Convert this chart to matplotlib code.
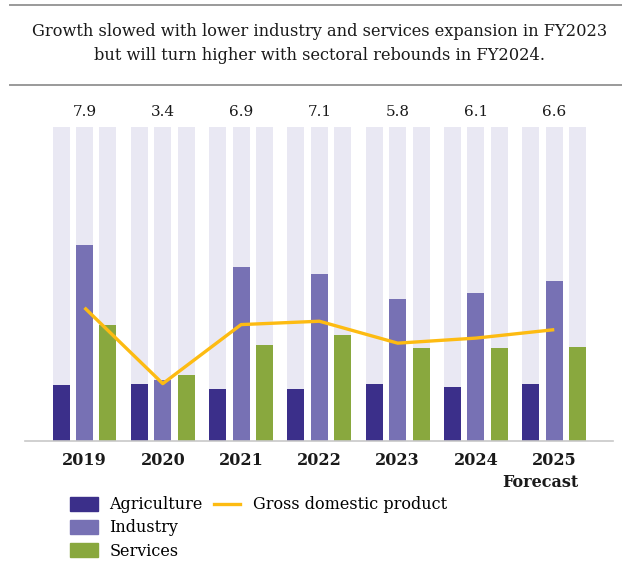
import numpy as np
import matplotlib
matplotlib.use("Agg")
import matplotlib.pyplot as plt
from matplotlib.patches import Patch
from matplotlib.lines import Line2D

# Sector contributions and GDP growth (%), FY2019-FY2025
years = ["2019", "2020", "2021", "2022", "2023", "2024", "2025"]
agriculture = [3.3, 3.4, 3.1, 3.1, 3.4, 3.2, 3.4]
industry = [11.6, 3.6, 10.3, 9.9, 8.4, 8.8, 9.5]
services = [6.9, 3.9, 5.7, 6.3, 5.5, 5.5, 5.6]
gdp = [7.9, 3.4, 6.9, 7.1, 5.8, 6.1, 6.6]
track_height = 18.6  # height of the pale background bars

AGRI = "#3b2f8a"
IND = "#7771b4"
SERV = "#89a83e"
TRACK = "#e9e8f3"
GDP = "#fdbb12"
INK = "#1a1a1a"

plt.rcParams["font.family"] = ["DejaVu Serif"]

fig = plt.figure(figsize=(6.22, 5.61), dpi=100)
ax = fig.add_axes([25 / 622, 120 / 561, 588 / 622, 337.4 / 561])

x = np.arange(len(years))
off = 0.30
w = 0.217

for dx, vals, col in [(-off, agriculture, AGRI), (0, industry, IND), (off, services, SERV)]:
    ax.bar(x + dx, [track_height] * len(x), width=w, color=TRACK, zorder=1)
    ax.bar(x + dx, vals, width=w, color=col, zorder=2)

ax.plot(x, gdp, color=GDP, lw=2.4, zorder=3, solid_capstyle="butt")

for xi, v in zip(x, gdp):
    ax.text(xi, 19.5, f"{v:.1f}", ha="center", va="center", fontsize=11, color=INK)

ax.set_xlim(-0.76, 6.75)
ax.set_ylim(0, 20)
ax.set_yticks([])
ax.set_xticks(x)
ax.set_xticklabels(years, fontsize=11.5, fontweight="bold", color=INK)
ax.tick_params(axis="x", length=0, pad=8)
for s in ["top", "right", "left"]:
    ax.spines[s].set_visible(False)
ax.spines["bottom"].set_color("#c8c8c8")
ax.spines["bottom"].set_linewidth(1.2)

# the last year is a projection
ax.text(x[-1] - 0.18, -0.098, "Forecast", transform=ax.get_xaxis_transform(),
        ha="center", va="top", fontsize=11.5, fontweight="bold", color=INK)

# title block between two rules
fig.add_artist(Line2D([10 / 622, 1], [1 - 4.5 / 561] * 2, color="#9a9a9a", lw=1.4))
fig.add_artist(Line2D([10 / 622, 1], [1 - 85 / 561] * 2, color="#9a9a9a", lw=1.4))
fig.text(320 / 622, 1 - 43.5 / 561,
         "Growth slowed with lower industry and services expansion in FY2023\n"
         "but will turn higher with sectoral rebounds in FY2024.",
         ha="center", va="center", fontsize=11.7, color=INK, linespacing=1.55)

bar_handles = [Patch(color=AGRI, label="Agriculture"),
               Patch(color=IND, label="Industry"),
               Patch(color=SERV, label="Services")]
fig.legend(handles=bar_handles, loc="upper left", bbox_to_anchor=(64 / 622, 1 - 490 / 561),
           frameon=False, fontsize=11.5, handlelength=1.75, handleheight=1.0,
           labelspacing=0.38, handletextpad=0.7, borderaxespad=0)
fig.legend(handles=[Line2D([], [], color=GDP, lw=2.4, label="Gross domestic product")],
           loc="upper left", bbox_to_anchor=(208 / 622, 1 - 490 / 561),
           frameon=False, fontsize=11.5, handlelength=1.6, handletextpad=0.8, borderaxespad=0)

fig.savefig("out.png", dpi=100)
